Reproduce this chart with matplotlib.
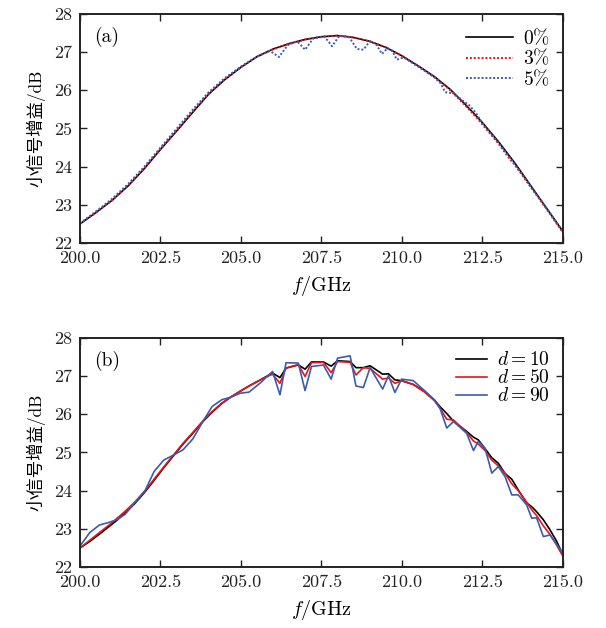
import matplotlib
matplotlib.use("Agg")
import matplotlib.pyplot as plt
from matplotlib.ticker import FixedLocator, FixedFormatter

plt.rcParams['font.family'] = ['cmr10', 'Noto Sans CJK SC', 'DejaVu Sans']
plt.rcParams['mathtext.fontset'] = 'cm'
plt.rcParams['axes.formatter.use_mathtext'] = True

# ---------------- data: panel (a) ----------------
fa_0 = [200.0, 200.5, 201.0, 201.5, 202.0, 202.5, 203.0, 203.5, 204.0, 204.5,
        205.0, 205.5, 206.0, 206.5, 207.0, 207.5, 208.0, 208.5, 209.0, 209.5,
        210.0, 210.5, 211.0, 211.5, 212.0, 212.5, 213.0, 213.5, 214.0, 214.5, 215.0]
ga_0 = [22.50, 22.80, 23.12, 23.50, 23.95, 24.45, 24.93, 25.42, 25.90, 26.28,
        26.60, 26.88, 27.08, 27.22, 27.33, 27.40, 27.43, 27.38, 27.28, 27.12,
        26.90, 26.64, 26.36, 26.02, 25.60, 25.15, 24.65, 24.10, 23.50, 22.90, 22.30]

fa_3 = [200.0, 200.5, 201.0, 201.5, 202.0, 202.5, 203.0, 203.5, 204.0, 204.5,
        205.0, 205.5, 206.0, 206.5, 207.0, 207.5, 208.0, 208.5, 209.0, 209.5,
        210.0, 210.5, 211.0, 211.5, 212.0, 212.3, 212.5, 212.8, 213.0, 213.3,
        213.5, 214.0, 214.5, 215.0]
ga_3 = [22.50, 22.80, 23.12, 23.51, 23.96, 24.46, 24.95, 25.44, 25.91, 26.29,
        26.61, 26.88, 27.07, 27.22, 27.33, 27.40, 27.43, 27.38, 27.28, 27.12,
        26.90, 26.63, 26.35, 26.00, 25.57, 25.30, 25.10, 24.80, 24.60, 24.25,
        24.05, 23.46, 22.88, 22.27]

fa_5 = [200.0, 200.5, 201.0, 201.5, 202.0, 202.5, 203.0, 203.5, 204.0, 204.5,
        205.0, 205.5, 205.9, 206.18, 206.45, 206.75, 206.99, 207.25, 207.6, 207.83,
        208.05, 208.35, 208.6, 208.8, 209.0, 209.2, 209.38, 209.55, 209.7, 209.84,
        210.05, 210.5, 211.0, 211.2, 211.34, 211.6, 211.9, 212.1, 212.3, 212.5,
        213.0, 213.5, 214.0, 214.5, 215.0]
ga_5 = [22.52, 22.83, 23.16, 23.55, 24.00, 24.50, 24.99, 25.49, 25.95, 26.32,
        26.62, 26.88, 27.03, 26.87, 27.18, 27.28, 27.06, 27.36, 27.40, 27.15,
        27.42, 27.40, 27.08, 27.06, 27.28, 27.20, 26.95, 27.10, 27.03, 26.80,
        26.86, 26.62, 26.34, 26.18, 25.95, 25.92, 25.72, 25.60, 25.40, 25.13,
        24.62, 24.07, 23.48, 22.90, 22.30]

# ---------------- data: panel (b) ----------------
fb = [200.0, 200.3, 200.6, 200.9, 201.14, 201.4, 201.7, 202.02, 202.3, 202.6,
      202.9, 203.2, 203.5, 203.83, 204.1, 204.4, 204.7, 204.97, 205.25, 205.6,
      205.98, 206.21, 206.40, 206.78, 206.99, 207.19, 207.56, 207.80, 208.00, 208.39,
      208.57, 208.80, 209.01, 209.40, 209.58, 209.78, 209.99, 210.35, 210.7, 211.0,
      211.18, 211.39, 211.6, 212.01, 212.22, 212.37, 212.58, 212.79, 212.99, 213.2,
      213.41, 213.61, 213.87, 214.03, 214.18, 214.39, 214.6, 214.8, 215.0]
gb_10 = [22.50, 22.67, 22.86, 23.06, 23.22, 23.42, 23.66, 23.97, 24.27, 24.60,
         24.91, 25.22, 25.50, 25.82, 26.05, 26.28, 26.46, 26.60, 26.74, 26.90,
         27.08, 26.96, 27.21, 27.29, 27.18, 27.37, 27.37, 27.26, 27.40, 27.38,
         27.22, 27.22, 27.27, 27.05, 27.06, 26.90, 26.88, 26.78, 26.60, 26.38,
         26.20, 26.02, 25.82, 25.55, 25.40, 25.33, 25.10, 24.86, 24.72, 24.45,
         24.30, 24.02, 23.68, 23.58, 23.45, 23.24, 22.97, 22.68, 22.32]
gb_50 = [22.50, 22.70, 22.90, 23.10, 23.27, 23.46, 23.70, 24.00, 24.30, 24.62,
         24.93, 25.24, 25.52, 25.84, 26.07, 26.29, 26.46, 26.60, 26.74, 26.90,
         27.05, 26.81, 27.21, 27.30, 26.99, 27.35, 27.36, 27.09, 27.38, 27.36,
         27.03, 27.22, 27.20, 26.92, 26.95, 26.81, 26.88, 26.78, 26.58, 26.36,
         26.16, 25.87, 25.85, 25.52, 25.30, 25.22, 25.05, 24.80, 24.65, 24.45,
         24.18, 24.00, 23.70, 23.50, 23.35, 23.08, 22.85, 22.58, 22.28]
gb_90 = [22.55, 22.90, 23.10, 23.17, 23.24, 23.38, 23.68, 24.00, 24.50, 24.80,
         24.93, 25.07, 25.35, 25.83, 26.20, 26.38, 26.45, 26.55, 26.58, 26.82,
         27.12, 26.51, 27.35, 27.34, 26.62, 27.25, 27.29, 26.92, 27.47, 27.53,
         26.74, 26.70, 27.22, 26.66, 27.01, 26.57, 26.92, 26.88, 26.62, 26.38,
         26.16, 25.64, 25.81, 25.50, 25.05, 25.29, 25.11, 24.46, 24.63, 24.37,
         23.89, 23.89, 23.63, 23.28, 23.29, 22.80, 22.84, 22.60, 22.36]

xticks = [200.0, 202.5, 205.0, 207.5, 210.0, 212.5, 215.0]
xticklabels = ['200.0', '202.5', '205.0', '207.5', '210.0', '212.5', '215.0']
yticks = [22, 23, 24, 25, 26, 27, 28]
yticklabels = ['22', '23', '24', '25', '26', '27', '28']

ylabel = '小信号增益/dB'
xlabel = r'$f$/GHz'

RED = '#e8141b'
BLUE = '#3a5cae'

fig = plt.figure(figsize=(6.06, 6.28), dpi=100)
ax1 = fig.add_axes([0.132, 0.613, 0.797, 0.365])
ax2 = fig.add_axes([0.132, 0.097, 0.797, 0.365])

ax1.plot(fa_0, ga_0, color='black', lw=1.2, label=r'$0\%$')
ax1.plot(fa_3, ga_3, color=RED, lw=1.4, ls=(0, (1, 1)), label=r'$3\%$')
ax1.plot(fa_5, ga_5, color=BLUE, lw=1.4, ls=(0, (1, 1)), label=r'$5\%$')

ax2.plot(fb, gb_10, color='black', lw=1.2, label=r'$d=10$')
ax2.plot(fb, gb_50, color=RED, lw=1.2, label=r'$d=50$')
ax2.plot(fb, gb_90, color=BLUE, lw=1.2, label=r'$d=90$')

for ax, tag in ((ax1, '(a)'), (ax2, '(b)')):
    ax.set_xlim(200, 215)
    ax.set_ylim(22, 28)
    ax.xaxis.set_major_locator(FixedLocator(xticks))
    ax.xaxis.set_major_formatter(FixedFormatter(xticklabels))
    ax.yaxis.set_major_locator(FixedLocator(yticks))
    ax.yaxis.set_major_formatter(FixedFormatter(yticklabels))
    ax.tick_params(direction='in', length=5, width=1.0, top=True, right=True,
                   labelsize=13, colors='#222222')
    ax.tick_params(axis='x', pad=5.5)
    ax.tick_params(axis='y', pad=6)
    for s in ax.spines.values():
        s.set_linewidth(1.4)
        s.set_color('#222222')
    ax.set_xlabel(xlabel, fontsize=14.5, labelpad=6)
    ax.set_ylabel(ylabel, fontsize=12.5, labelpad=6)
    ax.text(0.03, 0.9, tag, transform=ax.transAxes, fontsize=14,
            ha='left', va='center')

ax1.legend(loc='upper right', frameon=False, fontsize=14, handlelength=2.4,
           handletextpad=0.5, labelspacing=0.0, borderaxespad=0.3)
ax2.legend(loc='upper right', frameon=False, fontsize=14, handlelength=1.6,
           handletextpad=0.5, labelspacing=0.0, borderaxespad=0.3)

fig.savefig('out.png', dpi=100)
